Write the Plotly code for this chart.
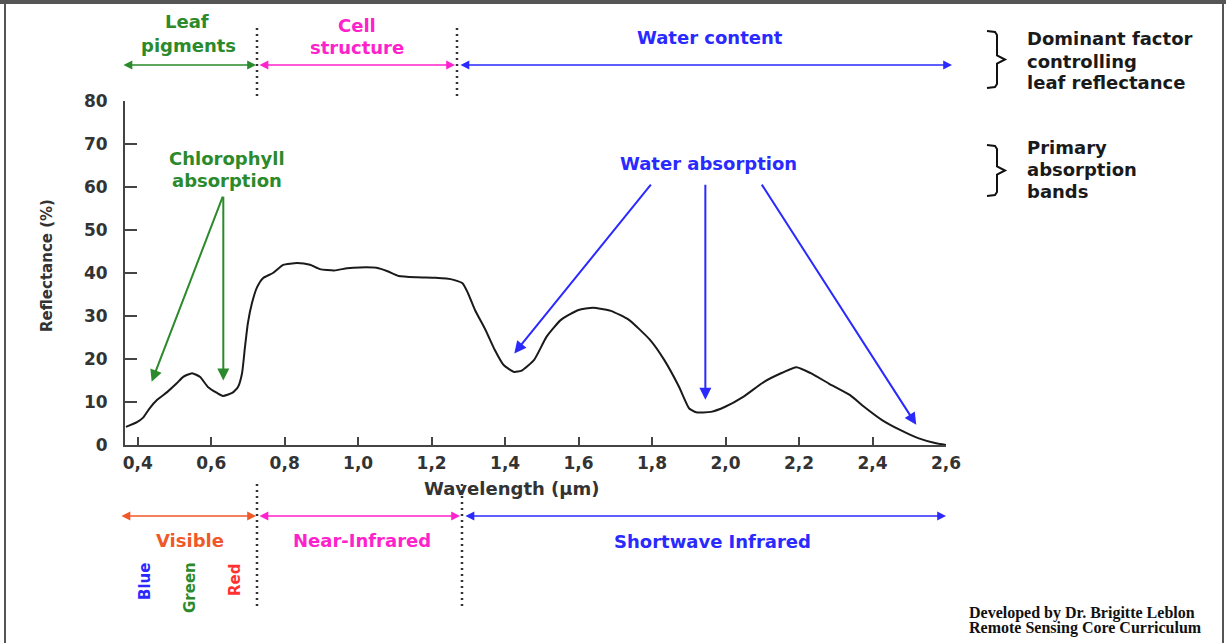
import plotly.graph_objects as go

# ---------------- data ----------------
wavelength_um = [0.368, 0.398, 0.414, 0.433, 0.453, 0.480, 0.507, 0.523, 0.548, 0.570,
                 0.591, 0.616, 0.632, 0.657, 0.673, 0.684, 0.692, 0.700, 0.711, 0.725,
                 0.741, 0.768, 0.796, 0.834, 0.869, 0.896, 0.935, 0.970, 1.005, 1.050,
                 1.080, 1.110, 1.160, 1.210, 1.240, 1.260, 1.284, 1.299, 1.318, 1.347,
                 1.372, 1.396, 1.424, 1.445, 1.479, 1.513, 1.552, 1.600, 1.639, 1.688,
                 1.737, 1.795, 1.833, 1.873, 1.901, 1.920, 1.960, 1.999, 2.048, 2.105,
                 2.154, 2.193, 2.232, 2.281, 2.339, 2.377, 2.426, 2.475, 2.524, 2.573,
                 2.600]
reflectance_pct = [4.2, 5.3, 6.3, 8.6, 10.5, 12.3, 14.4, 15.8, 16.7, 15.8,
                   13.5, 12.1, 11.4, 12.1, 13.5, 16.7, 22.8, 28.4, 33.0, 36.7,
                   38.8, 40.0, 41.9, 42.3, 41.9, 40.9, 40.6, 41.1, 41.3, 41.2,
                   40.4, 39.3, 39.0, 38.9, 38.7, 38.4, 37.6, 35.3, 31.4, 26.7,
                   22.1, 18.6, 17.0, 17.3, 19.8, 25.2, 29.1, 31.4, 31.9, 31.2,
                   29.1, 24.4, 19.8, 13.6, 8.5, 7.6, 7.7, 8.9, 11.2, 14.7,
                   16.8, 18.1, 16.7, 14.3, 11.6, 8.9, 5.8, 3.5, 1.6, 0.4,
                   0.0]

x_tick_vals = [0.4, 0.6, 0.8, 1.0, 1.2, 1.4, 1.6, 1.8, 2.0, 2.2, 2.4, 2.6]
y_tick_vals = [0, 10, 20, 30, 40, 50, 60, 70, 80]

# absorption arrows: (head x, head y, tail x, tail y)
chlorophyll_arrows = [(0.438, 14.7, 0.633, 58.1), (0.633, 15.0, 0.633, 58.1)]
water_arrows = [(1.425, 21.3, 1.800, 60.9), (1.945, 10.5, 1.945, 60.9), (2.519, 4.7, 2.096, 60.9)]

# ---------------- layout helpers ----------------
W, H = 1226, 643
L, R, T, B = 125, 946, 101, 445


def px(x):
    return (x - L) / (R - L)


def py(y):
    return (B - y) / (B - T)


GREEN = "#2b8a2b"
MAGENTA = "#ff22cc"
BLUE = "#2a2aff"
ORANGE = "#f0582a"
RED = "#ff3030"
DARK = "#222222"
FONT = "DejaVu Sans"

fig = go.Figure()
fig.add_trace(go.Scatter(
    x=wavelength_um, y=reflectance_pct, mode="lines",
    line=dict(color="#1a1a1a", width=2, shape="spline", smoothing=0.5),
    hoverinfo="skip", showlegend=False))

annotations = []
shapes = []


def text(x, y, s, color=DARK, size=18, anchor="center", angle=0, family=FONT, weight="bold"):
    annotations.append(dict(
        xref="paper", yref="paper", x=px(x), y=py(y), text=s, showarrow=False,
        xanchor=anchor, yanchor="middle", textangle=angle,
        font=dict(family=family, size=size, color=color, weight=weight)))


def double_arrow(x0, x1, y, color):
    annotations.append(dict(
        xref="paper", yref="paper", x=px(x1), y=py(y), axref="pixel", ayref="pixel",
        ax=-(x1 - x0), ay=0, text="", showarrow=True, arrowside="end+start",
        arrowhead=2, arrowsize=1.1, arrowwidth=1.6, arrowcolor=color))


def dotted(x, y0, y1):
    shapes.append(dict(type="line", xref="paper", yref="paper",
                       x0=px(x), x1=px(x), y0=py(y0), y1=py(y1),
                       line=dict(color="#333333", width=2.5, dash="2px,4px")))


def brace(xe, xs, xt, y0, y1):
    ym = (y0 + y1) / 2
    pts = [(xe, y0), (xs - 2, y0 + 1), (xs, y0 + 4), (xs, ym - 4), (xt, ym),
           (xs, ym + 4), (xs, y1 - 4), (xs - 2, y1 - 1), (xe, y1)]
    path = "M " + " L ".join(f"{px(a):.5f},{py(b):.5f}" for a, b in pts)
    shapes.append(dict(type="path", xref="paper", yref="paper", path=path,
                       line=dict(color="#111111", width=2)))


# top band
text(187, 21, "Leaf", GREEN)
text(188, 46, "pigments", GREEN)
text(357, 25, "Cell", MAGENTA)
text(357, 48, "structure", MAGENTA)
text(710, 38, "Water content", BLUE)
double_arrow(122, 256, 65, GREEN)
double_arrow(258, 455, 65, MAGENTA)
double_arrow(459, 952, 65, BLUE)
dotted(257, 28, 98)
dotted(457, 28, 98)

# right legend-like notes
brace(987, 997, 1005, 31, 88)
brace(987, 997, 1005, 145, 196)
text(1025, 39, "Dominant factor", "#1a1a1a", 18, "left")
text(1025, 61, "controlling", "#1a1a1a", 18, "left")
text(1025, 83, "leaf reflectance", "#1a1a1a", 18, "left")
text(1025, 147, "Primary", "#1a1a1a", 18, "left")
text(1025, 169, "absorption", "#1a1a1a", 18, "left")
text(1025, 191, "bands", "#1a1a1a", 18, "left")

# in-plot labels
text(227, 158, "Chlorophyll", GREEN)
text(227, 180, "absorption", GREEN)
text(708, 163, "Water absorption", BLUE)

for hx, hy, tx, ty in chlorophyll_arrows:
    annotations.append(dict(xref="x", yref="y", axref="x", ayref="y", x=hx, y=hy, ax=tx, ay=ty,
                            text="", showarrow=True, arrowhead=2, arrowsize=1.2,
                            arrowwidth=2, arrowcolor=GREEN))
for hx, hy, tx, ty in water_arrows:
    annotations.append(dict(xref="x", yref="y", axref="x", ayref="y", x=hx, y=hy, ax=tx, ay=ty,
                            text="", showarrow=True, arrowhead=2, arrowsize=1.2,
                            arrowwidth=2, arrowcolor=BLUE))

# axis titles
text(47, 266, "Reflectance (%)", "#333333", 15, angle=-90)
text(512, 488, "Wavelength (µm)", "#333333", 18)

# bottom band
double_arrow(120, 256, 516, ORANGE)
double_arrow(258, 460, 516, MAGENTA)
double_arrow(464, 946, 516, BLUE)
dotted(257, 484, 610)
dotted(462, 484, 610)
text(190, 540, "Visible", ORANGE)
text(362, 540, "Near-Infrared", MAGENTA)
text(712, 541, "Shortwave Infrared", BLUE)
text(145, 582, "Blue", BLUE, 15, angle=-90)
text(190, 588, "Green", GREEN, 15, angle=-90)
text(235, 580, "Red", RED, 15, angle=-90)

# credits
text(967, 613, "Developed by Dr. Brigitte Leblon", "#111111", 16, "left", family="Liberation Serif")
text(967, 628, "Remote Sensing Core Curriculum", "#111111", 16, "left", family="Liberation Serif")

# frame of the picture
shapes.append(dict(type="line", xref="paper", yref="paper", x0=px(0), x1=px(W), y0=py(2), y1=py(2),
                   line=dict(color="#555555", width=4)))
shapes.append(dict(type="line", xref="paper", yref="paper", x0=px(5), x1=px(5), y0=py(0), y1=py(H),
                   line=dict(color="#555555", width=2)))
shapes.append(dict(type="line", xref="paper", yref="paper", x0=px(1223), x1=px(1223), y0=py(0), y1=py(H),
                   line=dict(color="#555555", width=2)))

axis_font = dict(family=FONT, size=17, color="#333333", weight="bold")
fig.update_layout(
    width=W, height=H, autosize=False,
    margin=dict(l=L, r=W - R, t=T, b=H - B, pad=0),
    paper_bgcolor="white", plot_bgcolor="white",
    separators=",.",
    showlegend=False,
    annotations=annotations, shapes=shapes,
    xaxis=dict(range=[0.4 - (137.7 - L) / 367.3, 2.6], tickvals=x_tick_vals, tickformat=".1f",
               showgrid=False, zeroline=False, showline=True, linecolor="#444444", linewidth=2,
               ticks="inside", ticklen=8, tickwidth=2, tickcolor="#444444",
               tickfont=axis_font, ticklabelstandoff=2, fixedrange=True),
    yaxis=dict(range=[0, 80], tickvals=y_tick_vals, tickformat="d",
               showgrid=False, zeroline=False, showline=True, linecolor="#444444", linewidth=2,
               ticks="inside", ticklen=12, tickwidth=2, tickcolor="#444444",
               tickfont=axis_font, ticklabelstandoff=12, fixedrange=True),
)

fig.write_html("out.html")
